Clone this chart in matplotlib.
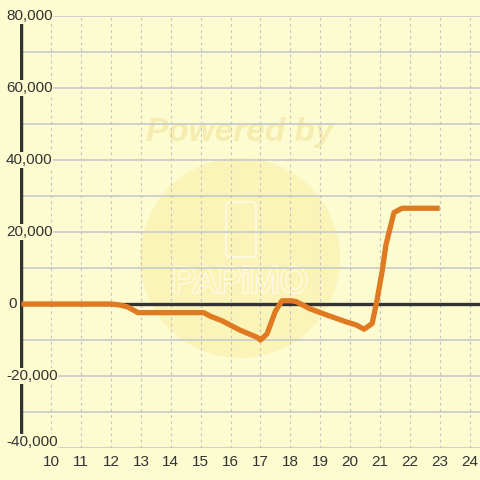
import matplotlib

matplotlib.use("Agg")
import matplotlib.pyplot as plt
from matplotlib.patches import Circle, FancyBboxPatch
import matplotlib.patheffects as pe

# balance over time (hour of day)
hours = [9.0, 12.0, 12.3, 12.55, 12.9, 15.1, 15.35, 15.7, 16.3, 16.9, 17.0,
         17.22, 17.5, 17.72, 18.05, 18.2, 18.65, 19.2, 19.85, 20.2, 20.47,
         20.74, 20.9, 21.08, 21.2, 21.47, 21.74, 23.0]
balance = [0, 0, -300, -800, -2400, -2400, -3500, -4600, -7200, -9300, -10000,
           -8300, -2000, 900, 900, 650, -1300, -3000, -4900, -5800, -7000,
           -5400, 1000, 9400, 16400, 25400, 26600, 26600]

x_ticks = list(range(10, 25))
y_ticks = [-40000, -20000, 0, 20000, 40000, 60000, 80000]
y_grid = list(range(-40000, 80001, 10000))

BG = "#fcfcd0"

plt.rcParams["font.family"] = ["Liberation Sans", "DejaVu Sans"]

fig = plt.figure(figsize=(4.8, 4.8), dpi=100, facecolor=BG)
ax = fig.add_axes([20 / 480, 32 / 480, 460 / 480, 432 / 480])
ax.set_facecolor(BG)
ax.set_xlim(8.95, 24.35)
ax.set_ylim(-40000, 80000)

# watermark
wm = Circle((240 / 480, 1 - 258 / 480), 100 / 480, transform=fig.transFigure,
            facecolor="#fbf2b4", edgecolor="none", alpha=0.8, zorder=0)
ax.add_patch(wm)
phone = FancyBboxPatch((226 / 480, 1 - 257 / 480), 30 / 480, 55 / 480,
                       boxstyle="round,pad=0,rounding_size=0.008", transform=fig.transFigure,
                       facecolor="none", edgecolor="#fffbe6", linewidth=1.2, zorder=0.5)
ax.add_patch(phone)
ax.text(0.5, 1 - 133 / 480, "Powered by", transform=fig.transFigure, ha="center", va="center",
        fontsize=24, fontweight="bold", fontstyle="italic", color="#f6ecb0", zorder=0.5)
ax.text(0.5, 1 - 283 / 480, "PAPiMO", transform=fig.transFigure, ha="center", va="center",
        fontsize=26, color="#fbf2b4", zorder=0.5,
        path_effects=[pe.withStroke(linewidth=2, foreground="#fffbe6")])

# grid
for v in y_grid:
    ax.axhline(v, color="#c8c8cc", linewidth=1.2, zorder=1)
for h in x_ticks:
    ax.axvline(h, color="#c4c4c4", linewidth=0.8, linestyle=(0, (2.5, 3)), zorder=1)

ax.axhline(0, color="#333333", linewidth=2.4, zorder=2)
ax.axvline(8.98, color="#333333", linewidth=3.2, zorder=2)

ax.plot(hours, balance, color="#e07a22", linewidth=3.8, solid_joinstyle="round",
        solid_capstyle="butt", zorder=3)

for s in ax.spines.values():
    s.set_visible(False)
ax.set_yticks([])
ax.set_xticks(x_ticks)
ax.set_xticklabels([str(t) for t in x_ticks], fontsize=11, color="#333333")
ax.tick_params(axis="x", length=0, pad=5)

for v in y_ticks:
    yv = v if v > -40000 else -38300
    xo = -14 / 460 if v != 0 else -12 / 460
    ax.text(xo, (yv + 40000) / 120000, f"{v:,}", transform=ax.transAxes,
            ha="left", va="center", fontsize=11, color="#333333", zorder=4,
            bbox=dict(boxstyle="square,pad=0.05", facecolor=BG, edgecolor="none"))

fig.savefig("out.png", dpi=100, facecolor=BG)
